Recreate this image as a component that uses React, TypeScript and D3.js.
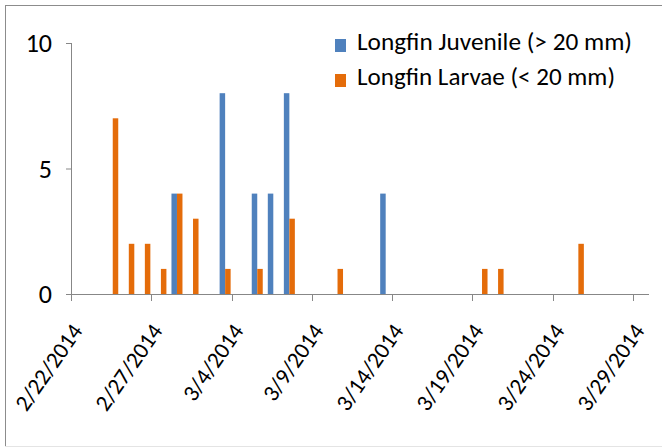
import * as d3 from "d3";

// Sample dates and counts
const juvenileDates = ["2/28/2014", "3/3/2014", "3/5/2014", "3/6/2014", "3/7/2014", "3/13/2014"];
const juvenileCounts = [4, 8, 4, 4, 8, 4];

const larvaeDates = [
  "2/24/2014", "2/25/2014", "2/26/2014", "2/27/2014", "2/28/2014", "3/1/2014", "3/3/2014",
  "3/5/2014", "3/7/2014", "3/10/2014", "3/19/2014", "3/20/2014", "3/25/2014",
];
const larvaeCounts = [7, 2, 2, 1, 4, 3, 1, 1, 3, 1, 1, 1, 2];

const tickLabels = [
  "2/22/2014", "2/27/2014", "3/4/2014", "3/9/2014",
  "3/14/2014", "3/19/2014", "3/24/2014", "3/29/2014",
];
const yTicks = [0, 5, 10];

const seriesNames = ["Longfin Juvenile (> 20 mm)", "Longfin Larvae (< 20 mm)"];
const seriesColors = ["#4F81BD", "#E46C0A"];

const parse = d3.utcParse("%m/%d/%Y");
const font = "Carlito, 'Open Sans', sans-serif";

export default function App() {
  const width = 662;
  const height = 448;

  // axis extents
  const x = d3
    .scaleUtc()
    .domain([parse("2/22/2014")!, parse("3/30/2014")!])
    .range([71, 649]);
  const y = d3.scaleLinear().domain([0, 10]).range([294, 43]);

  const dayW = x(parse("2/23/2014")!) - x(parse("2/22/2014")!);
  const barW = 5.5;
  // bars sit a little past the start of their day slot
  const center = (s: string) => x(parse(s)!) + dayW * 0.6;

  const juvenile = juvenileDates.map((d, i) => ({ d, v: juvenileCounts[i] }));
  const larvae = larvaeDates.map((d, i) => ({ d, v: larvaeCounts[i] }));

  const axisColor = "#878787";

  return (
    <svg
      width={width}
      height={height}
      style={{ position: "absolute", left: 0, top: 0, background: "#fff" }}
    >
      {/* frame */}
      <line x1={5} x2={662} y1={5.5} y2={5.5} stroke="#8c8c8c" />
      <line x1={5.5} x2={5.5} y1={5} y2={446} stroke="#8c8c8c" />
      <line x1={5} x2={662} y1={446.5} y2={446.5} stroke="#e4e4e4" />

      {/* bars */}
      {juvenile.map((b) => (
        <rect
          key={"j" + b.d}
          x={center(b.d) - barW}
          y={y(b.v)}
          width={barW}
          height={y(0) - y(b.v)}
          fill={seriesColors[0]}
        />
      ))}
      {larvae.map((b) => (
        <rect
          key={"l" + b.d}
          x={center(b.d)}
          y={y(b.v)}
          width={barW}
          height={y(0) - y(b.v)}
          fill={seriesColors[1]}
        />
      ))}

      {/* y axis */}
      <line x1={71.5} x2={71.5} y1={y(10)} y2={y(0)} stroke={axisColor} />
      {yTicks.map((t) => (
        <g key={t}>
          <line x1={66} x2={71} y1={y(t) + 0.5} y2={y(t) + 0.5} stroke={axisColor} />
          <text
            x={52}
            y={y(t)}
            dy="0.35em"
            textAnchor="end"
            fontFamily={font}
            fontSize={26}
            fill="#000"
          >
            {t}
          </text>
        </g>
      ))}

      {/* x axis */}
      <line x1={71} x2={649} y1={294.5} y2={294.5} stroke={axisColor} />
      {tickLabels.map((t) => {
        const tx = Math.round(x(parse(t)!)) + 0.5;
        return (
          <g key={t}>
            <line x1={tx} x2={tx} y1={294} y2={301} stroke={axisColor} />
            <text
              transform={`translate(${tx + 12},331) rotate(-55)`}
              textAnchor="end"
              fontFamily={font}
              fontSize={23}
              fill="#000"
            >
              {t}
            </text>
          </g>
        );
      })}

      {/* legend */}
      {seriesNames.map((name, i) => (
        <g key={name} transform={`translate(335,${39 + i * 35})`}>
          <rect x={0} y={0} width={11} height={13} fill={seriesColors[i]} />
          <text
            x={22}
            y={11}
            fontFamily={font}
            fontSize={25}
            fill="#000"
            textLength={i === 0 ? 275 : 258}
            lengthAdjust="spacingAndGlyphs"
          >
            {name}
          </text>
        </g>
      ))}
    </svg>
  );
}
